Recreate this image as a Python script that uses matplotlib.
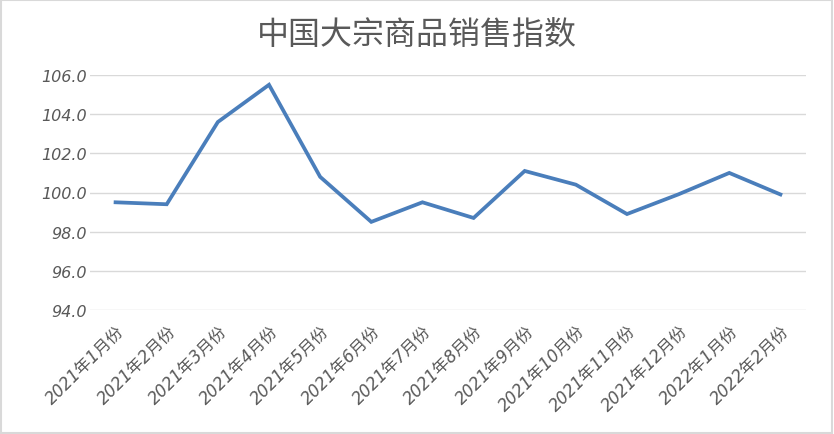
import matplotlib
matplotlib.use('Agg')
import matplotlib.pyplot as plt
from matplotlib.patches import Rectangle

plt.rcParams['font.family'] = ['DejaVu Sans', 'Noto Sans CJK SC']

months = ['2021年1月份', '2021年2月份', '2021年3月份', '2021年4月份', '2021年5月份',
          '2021年6月份', '2021年7月份', '2021年8月份', '2021年9月份', '2021年10月份',
          '2021年11月份', '2021年12月份', '2022年1月份', '2022年2月份']
index = [99.5, 99.4, 103.6, 105.5, 100.8, 98.5, 99.5, 98.7, 101.1, 100.4,
         98.9, 99.9, 101.0, 99.9]
yticks = [94.0, 96.0, 98.0, 100.0, 102.0, 104.0, 106.0]

W, H = 834, 435
fig = plt.figure(figsize=(W / 100, H / 100), dpi=100)
ax = fig.add_axes([90 / W, (H - 311) / H, (806 - 90) / W, (311 - 76) / H])

x = list(range(len(months)))
ax.plot(x, index, color='#4A7EBB', lw=2.7, solid_joinstyle='miter')

ax.set_xlim(-0.5, len(months) - 0.5)
ax.set_ylim(94, 106)
ax.set_yticks(yticks)
ax.set_yticklabels(['{:.1f}'.format(v) for v in yticks], fontsize=11.5,
                   color='#595959', style='italic')
ax.set_xticks(x)
ax.set_xticklabels(months, rotation=45, ha='right', rotation_mode='anchor',
                   fontsize=12, color='#595959', style='italic')
ax.tick_params(axis='y', length=0, pad=2)
ax.tick_params(axis='x', length=0, pad=8)
ax.grid(axis='y', color='#D9D9D9', lw=1)
ax.set_axisbelow(True)
for s in ax.spines.values():
    s.set_visible(False)

fig.text(0.5, (H - 36) / H, '中国大宗商品销售指数', ha='center', va='center',
         fontsize=23, color='#595959', family=['Noto Sans CJK SC'])
fig.patches.append(Rectangle((0.001, 0.002), 0.997, 0.995, transform=fig.transFigure,
                             fill=False, edgecolor='#D9D9D9', lw=1.5))

fig.savefig('out.png', dpi=100)
